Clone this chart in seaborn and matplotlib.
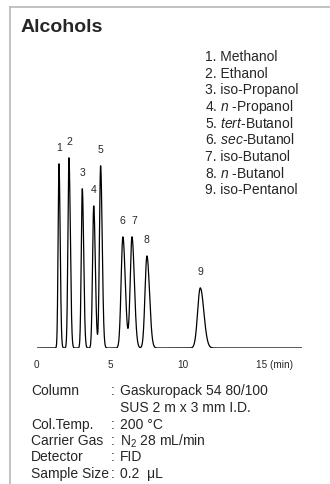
import numpy as np
import pandas as pd
import seaborn as sns
import matplotlib
from matplotlib import pyplot as plt
from matplotlib.lines import Line2D
import matplotlib.transforms as mtransforms

matplotlib.use('Agg')

# peak table
peak_ids = ['1', '2', '3', '4', '5', '6', '7', '8', '9']
retention_min = [1.52, 2.20, 3.11, 3.89, 4.36, 5.88, 6.50, 7.52, 11.16]
peak_height = [96.8, 100.0, 83.7, 74.7, 95.8, 58.4, 58.4, 48.4, 31.6]
peak_sigma = [0.06, 0.07, 0.07, 0.08, 0.08, 0.12, 0.12, 0.13, 0.18]

compounds = ['Methanol', 'Ethanol', 'iso-Propanol', r'$\it{n}$ -Propanol',
             r'$\it{tert}$-Butanol', r'$\it{sec}$-Butanol', 'iso-Butanol',
             r'$\it{n}$ -Butanol', 'iso-Pentanol']

cond_keys = ['Column', '', 'Col.Temp.', 'Carrier Gas', 'Detector', 'Sample Size']
cond_colon = [':', '', ':', ':', ':', ':']
cond_vals = ['Gaskuropack 54 80/100', 'SUS 2 m x 3 mm I.D.', '200 °C',
             'N$_2$ 28 mL/min', 'FID', '0.2  μL']

x_ticks = [0, 5, 10, 15]
x_tick_labels = ['0', '5', '10', '15 (min)']

# trace built from the peak table (gaussian peaks with a bit of tailing)
t = np.linspace(0, 18.1, 3000)
signal = np.zeros_like(t)
for rt, h, s in zip(retention_min, peak_height, peak_sigma):
    sig = np.where(t < rt, s, s * 1.35)
    signal += h * np.exp(-0.5 * ((t - rt) / sig) ** 2)
trace = pd.DataFrame({'time': t, 'signal': signal})

sns.set_style('white')
plt.rcParams['font.family'] = ['Liberation Sans', 'DejaVu Sans']
plt.rcParams.update({
    'mathtext.fontset': 'custom',
    'mathtext.rm': 'Liberation Sans',
    'mathtext.it': 'Liberation Sans:italic',
})

W, H = 330, 484
fig = plt.figure(figsize=(W / 100, H / 100), dpi=100)

# frame lines at top and left
fig.add_artist(Line2D([10.5 / W, 1], [1 - 6.5 / H, 1 - 6.5 / H], color='#b8b8b8', lw=1.2))
fig.add_artist(Line2D([10.5 / W, 10.5 / W], [1 - 6.5 / H, 0], color='#b8b8b8', lw=1.2))

x0, x1 = 36.7, 302
base, top = 348, 157.7
ymax = 120
ax_h = (base - top) * ymax / 100
ax = fig.add_axes([x0 / W, 1 - base / H, (x1 - x0) / W, ax_h / H])

sns.lineplot(data=trace, x='time', y='signal', ax=ax, color='black', lw=0.9)
ax.set_xlim(0, 18.1)
ax.set_ylim(0, ymax)
ax.set_xlabel('')
ax.set_ylabel('')
ax.set_yticks([])
ax.set_xticks(x_ticks)
ax.set_xticklabels(x_tick_labels, fontsize=7.2)
ax.tick_params(axis='x', length=0, pad=9)
last = ax.get_xticklabels()[-1]
last.set_horizontalalignment('left')
last.set_transform(last.get_transform() + mtransforms.ScaledTranslation(-1 / 100, 0, fig.dpi_scale_trans))
sns.despine(ax=ax, left=True, bottom=True)
ax.patch.set_alpha(0)

label_dx = {'6': -0.05, '7': 0.15}
for pid, rt, h in zip(peak_ids, retention_min, peak_height):
    ax.annotate(pid, xy=(rt + label_dx.get(pid, 0), h), xytext=(0, 8), textcoords='offset points',
                ha='center', va='bottom', fontsize=7.5)

fig.text(21 / W, 1 - 28 / H, 'Alcohols', fontsize=14, fontweight='bold', va='center', ha='left')

for i, name in enumerate(compounds):
    fig.text(205 / W, 1 - (57 + i * 16.6) / H, f'{i + 1}. {name}', fontsize=10,
             va='center', ha='left')

cond_y = [391, 408, 425, 441, 457, 474]
for key, colon, val, y in zip(cond_keys, cond_colon, cond_vals, cond_y):
    fig.text(31 / W, 1 - y / H, key, fontsize=10, va='center', ha='left')
    fig.text(111 / W, 1 - y / H, colon, fontsize=10, va='center', ha='left')
    fig.text(120 / W, 1 - y / H, val, fontsize=10, va='center', ha='left')

fig.savefig('out.png', dpi=100)
